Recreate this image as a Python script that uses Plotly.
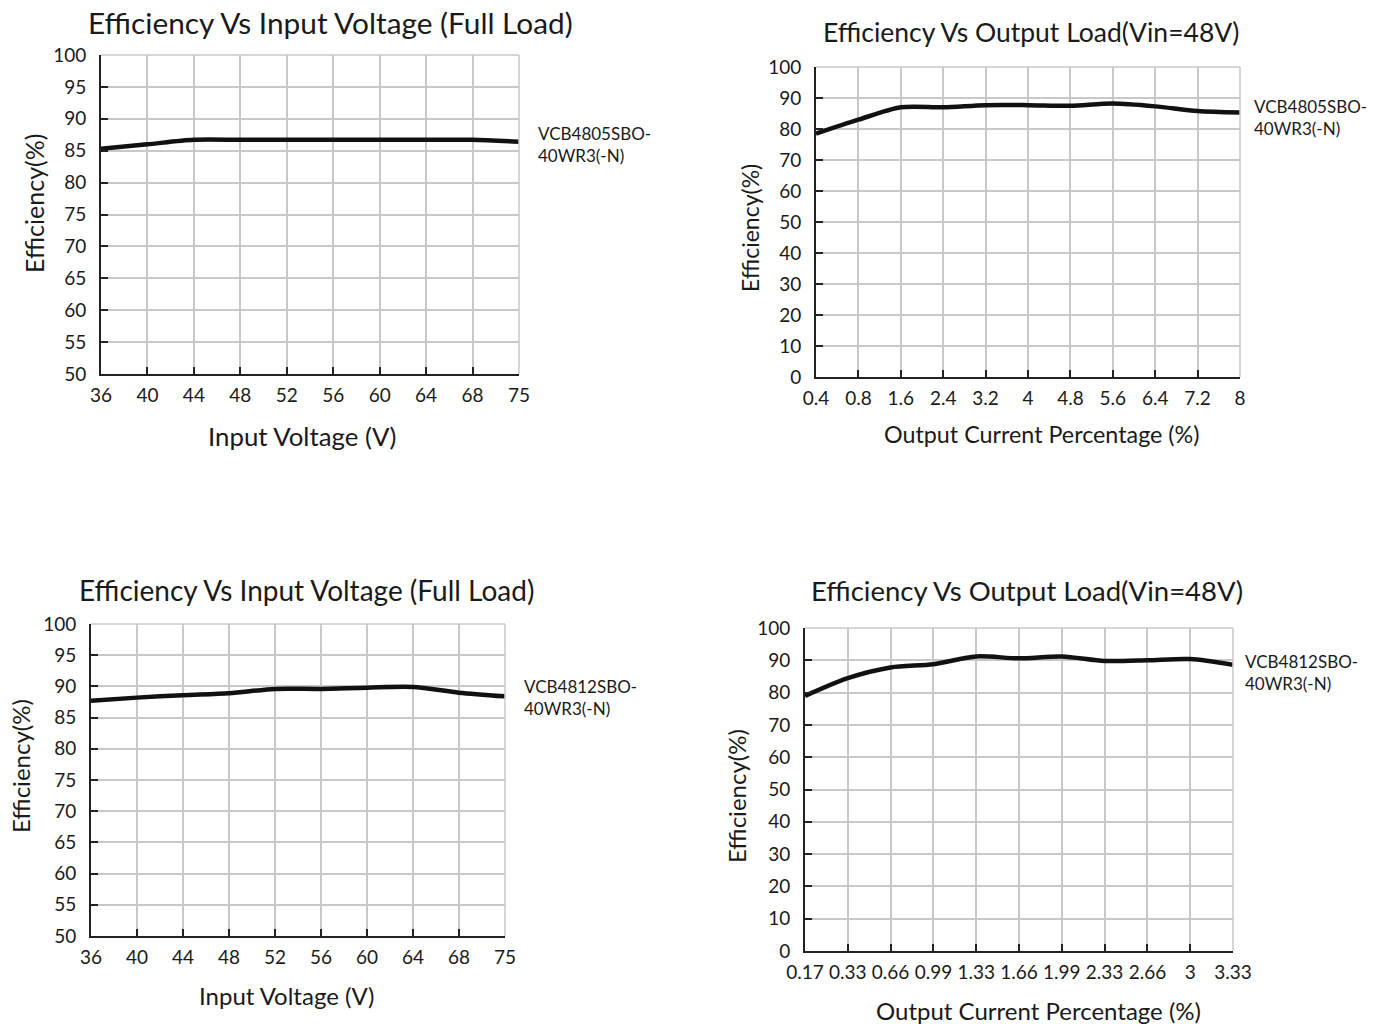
import plotly.graph_objects as go

# ---------------- data ----------------
vin_labels = ["36", "40", "44", "48", "52", "56", "60", "64", "68", "75"]
eff_vin_4805 = [85.3, 86.0, 86.7, 86.7, 86.7, 86.7, 86.7, 86.7, 86.7, 86.4]
eff_vin_4812 = [87.7, 88.2, 88.6, 88.9, 89.6, 89.6, 89.8, 89.9, 89.0, 88.4]

load_labels_4805 = ["0.4", "0.8", "1.6", "2.4", "3.2", "4", "4.8", "5.6", "6.4", "7.2", "8"]
eff_load_4805 = [78.5, 83.0, 87.0, 87.0, 87.7, 87.7, 87.5, 88.2, 87.3, 85.8, 85.3]

load_labels_4812 = ["0.17", "0.33", "0.66", "0.99", "1.33", "1.66", "1.99", "2.33", "2.66", "3", "3.33"]
eff_load_4812 = [79.0, 84.5, 87.8, 88.8, 91.2, 90.6, 91.2, 89.8, 90.0, 90.4, 88.6]

titles = ["Efficiency Vs Input Voltage (Full Load)", "Efficiency Vs Output Load(Vin=48V)",
          "Efficiency Vs Input Voltage (Full Load)", "Efficiency Vs Output Load(Vin=48V)"]
xtitles = ["Input Voltage (V)", "Output Current Percentage (%)",
           "Input Voltage (V)", "Output Current Percentage (%)"]
ytitle = "Efficiency(%)"
models = ["VCB4805SBO-<br>40WR3(-N)", "VCB4805SBO-<br>40WR3(-N)",
          "VCB4812SBO-<br>40WR3(-N)", "VCB4812SBO-<br>40WR3(-N)"]

# ---------------- layout geometry (pixels) ----------------
W, H = 1376, 1024
FONT = "Lato"
TXT = "#1a1a1a"
GRID = "#c8c8c8"

# (left, right, top, bottom) of each plot area
boxes = [(101, 519, 55, 374), (816, 1240, 67, 377), (91, 505, 624, 936), (805, 1233, 628, 951)]
title_pos = [(330, 22), (1031, 32), (306, 590), (1027, 590)]
title_size = [29.8, 26.5, 28, 27.5]
ytitle_pos = [(34, 204), (750, 228), (20, 766), (736, 796)]
ytitle_size = [25, 23, 24, 24]
xtitle_pos = [(302, 436), (1041, 434), (286, 995), (1038, 1010)]
xtitle_size = [25.8, 23.3, 24, 24]
label_y = [144, 117, 697, 672]
label_dx = [17, 12, 17, 10]
yranges = [(50, 100, 5), (0, 100, 10), (50, 100, 5), (0, 100, 10)]

series = [(vin_labels, eff_vin_4805), (load_labels_4805, eff_load_4805),
          (vin_labels, eff_vin_4812), (load_labels_4812, eff_load_4812)]

fig = go.Figure()
annotations = []
shapes = []
layout = {}

for i, ((xl, yv), (l, r, t, b)) in enumerate(zip(series, boxes)):
    n = i + 1
    xa = "x" if n == 1 else f"x{n}"
    ya = "y" if n == 1 else f"y{n}"
    fig.add_trace(go.Scatter(x=xl, y=yv, mode="lines", xaxis=xa, yaxis=ya,
                             line=dict(color="#111111", width=4.5, shape="spline", smoothing=0.8),
                             showlegend=False, hoverinfo="x+y"))
    y0, y1, dy = yranges[i]
    layout[f"xaxis{'' if n == 1 else n}"] = dict(
        domain=[l / W, r / W], anchor=ya, type="category", automargin=False,
        range=[0, len(xl) - 1], showgrid=True, gridcolor=GRID, gridwidth=1.5,
        showline=True, linecolor="#222", linewidth=2,
        ticks="inside", ticklen=7, tickwidth=2, tickcolor="#222", ticklabelstandoff=3,
        tickfont=dict(family=FONT, size=19, color=TXT), fixedrange=True,
    )
    layout[f"yaxis{'' if n == 1 else n}"] = dict(
        domain=[1 - b / H, 1 - t / H], anchor=xa, automargin=False,
        range=[y0, y1], tickmode="linear", tick0=y0, dtick=dy,
        showgrid=True, gridcolor=GRID, gridwidth=1.5, zeroline=False,
        showline=True, linecolor="#222", linewidth=2,
        ticks="inside", ticklen=7, tickwidth=2, tickcolor="#222", ticklabelstandoff=9,
        tickfont=dict(family=FONT, size=19, color=TXT), fixedrange=True,
    )
    # gray top & right frame
    shapes.append(dict(type="line", xref="paper", yref="paper", x0=l / W, x1=r / W,
                       y0=1 - t / H, y1=1 - t / H, line=dict(color=GRID, width=1.5)))
    shapes.append(dict(type="line", xref="paper", yref="paper", x0=r / W, x1=r / W,
                       y0=1 - t / H, y1=1 - b / H, line=dict(color=GRID, width=1.5)))
    tx, ty = title_pos[i]
    annotations.append(dict(text=titles[i], x=tx / W, y=1 - ty / H, xref="paper", yref="paper",
                            showarrow=False, xanchor="center", yanchor="middle",
                            font=dict(family=FONT, size=title_size[i], color=TXT)))
    xx, xy = xtitle_pos[i]
    annotations.append(dict(text=xtitles[i], x=xx / W, y=1 - xy / H,
                            xref="paper", yref="paper", showarrow=False,
                            xanchor="center", yanchor="middle",
                            font=dict(family=FONT, size=xtitle_size[i], color=TXT)))
    yx, yy = ytitle_pos[i]
    annotations.append(dict(text=ytitle, x=yx / W, y=1 - yy / H,
                            xref="paper", yref="paper", showarrow=False, textangle=-90,
                            xanchor="center", yanchor="middle",
                            font=dict(family=FONT, size=ytitle_size[i], color=TXT)))
    # model label to the right of the curve end
    annotations.append(dict(text=models[i], x=(r + label_dx[i]) / W, y=1 - label_y[i] / H,
                            xref="paper", yref="paper",
                            showarrow=False, xanchor="left", yanchor="middle", align="left",
                            font=dict(family=FONT, size=17, color=TXT)))

fig.update_layout(
    width=W, height=H, margin=dict(l=0, r=0, t=0, b=0, autoexpand=False),
    paper_bgcolor="white", plot_bgcolor="white",
    annotations=annotations, shapes=shapes, **layout,
)

fig.write_html("out.html")
